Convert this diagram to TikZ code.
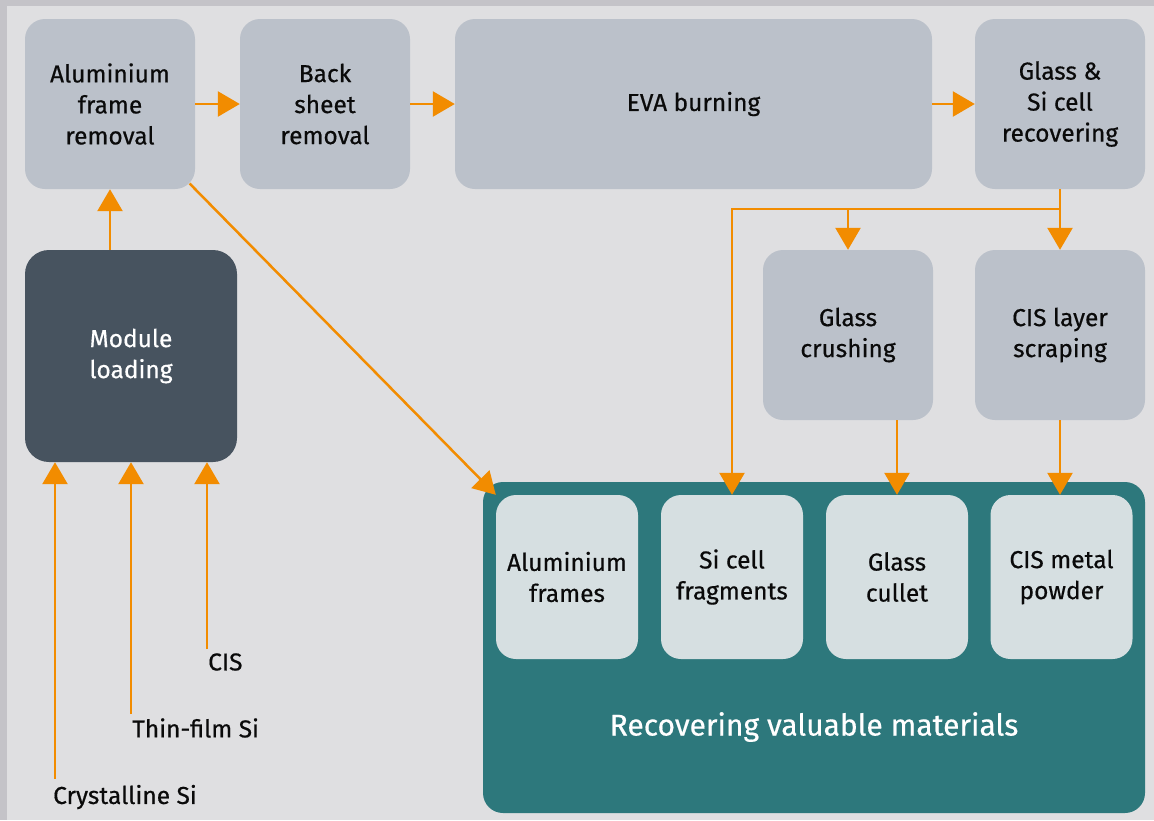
\documentclass[tikz,border=0pt]{standalone}
\usepackage{fontspec}
\setmainfont{Fira Sans}[FakeBold=0.5]
\usetikzlibrary{arrows.meta,positioning}
\definecolor{frameclr}{HTML}{C4C3C8}
\definecolor{bgclr}{HTML}{DFDFE1}
\definecolor{stepclr}{HTML}{BBC1CA}
\definecolor{darkclr}{HTML}{47535F}
\definecolor{tealclr}{HTML}{2D787C}
\definecolor{matclr}{HTML}{D6DFE1}
\definecolor{arrclr}{HTML}{F28C00}
\definecolor{txtclr}{HTML}{0A0A0A}

\tikzset{
  stepbox/.style={fill=stepclr, rounded corners=20pt, minimum width=170pt,
    minimum height=170pt, align=center, text=txtclr, inner sep=0pt,
    font=\fontsize{24.5}{31}\selectfont},
  darkbox/.style={stepbox, fill=darkclr, text=white, rounded corners=24pt,
    minimum width=212pt, minimum height=212pt},
  tealbox/.style={fill=tealclr, rounded corners=20pt, minimum width=662pt,
    minimum height=331pt, inner sep=0pt},
  matbox/.style={stepbox, fill=matclr, minimum width=142pt, minimum height=164pt},
  inlabel/.style={anchor=west, inner sep=0pt, text=txtclr,
    font=\fontsize{24.5}{31}\selectfont},
  arr/.style={draw=arrclr, line width=2.5pt,
    -{Triangle[length=22pt,width=25pt]}},
}

\begin{document}
\begin{tikzpicture}[x=1pt,y=-1pt]
    \fill[frameclr] (0,0) rectangle (1154,820);
    \fill[bgclr] (7,6) rectangle (1154,820);
    \useasboundingbox (0,0) rectangle (1154,820);

    % process steps
    \node[stepbox] (alu) at (110,104) {Aluminium\\frame\\removal};
    \node[stepbox] (back) at (325,104) {Back\\sheet\\removal};
    \node[stepbox, minimum width=477pt] (eva) at (693.5,104) {EVA burning};
    \node[stepbox] (recov) at (1060,104) {Glass \&\\Si cell\\recovering};
    \node[darkbox] (mod) at (131,356) {Module\\loading};
    \node[stepbox] (crush) at (848,335) {Glass\\crushing};
    \node[stepbox] (scrape) at (1060,335) {CIS layer\\scraping};

    % recovered materials
    \node[tealbox] (recbox) at (814,647.5) {};
    \node[matbox] (frames) at (567,577) {Aluminium\\frames};
    \node[matbox] (frag) at (732,577) {Si cell\\fragments};
    \node[matbox] (cullet) at (897,577) {Glass\\cullet};
    \node[matbox] (powder) at (1061.5,577) {CIS metal\\powder};
    \node[text=white, font=\fontsize{30}{35}\selectfont] (rectext) at (814,727)
        {Recovering valuable materials};

    % module types
    \node[inlabel] (cryst) at (53,797) {Crystalline Si};
    \node[inlabel] (thin) at (132,728) {Thin-film Si};
    \node[inlabel] (cis) at (208,662) {CIS};

    \draw[arr] (alu) -- (back);
    \draw[arr] (back) -- (eva);
    \draw[arr] (eva) -- (recov);
    \draw[arr] (mod.north -| alu.south) -- (alu.south);
    \draw[arr, shorten <=-8pt] (alu.south east) -- (frames.north west);

    \coordinate (split) at (recov.south |- 0,209);
    \draw[arr] (recov.south) -- (scrape.north);
    \draw[arr] (split) -| (frag.north);
    \draw[arr] (split -| crush.north) -- (crush.north);
    \draw[arr] (crush.south -| cullet.north) -- (cullet.north);
    \draw[arr] (scrape.south) -- (scrape.south |- powder.north);

    \draw[arr] ([xshift=2pt,yshift=6pt]cryst.north west)
        -- ([xshift=2pt]cryst.north west |- mod.south);
    \draw[arr] ([xshift=-1pt,yshift=4pt]thin.north west)
        -- ([xshift=-1pt]thin.north west |- mod.south);
    \draw[arr] ([xshift=-1pt,yshift=4pt]cis.north west)
        -- ([xshift=-1pt]cis.north west |- mod.south);
\end{tikzpicture}
\end{document}
